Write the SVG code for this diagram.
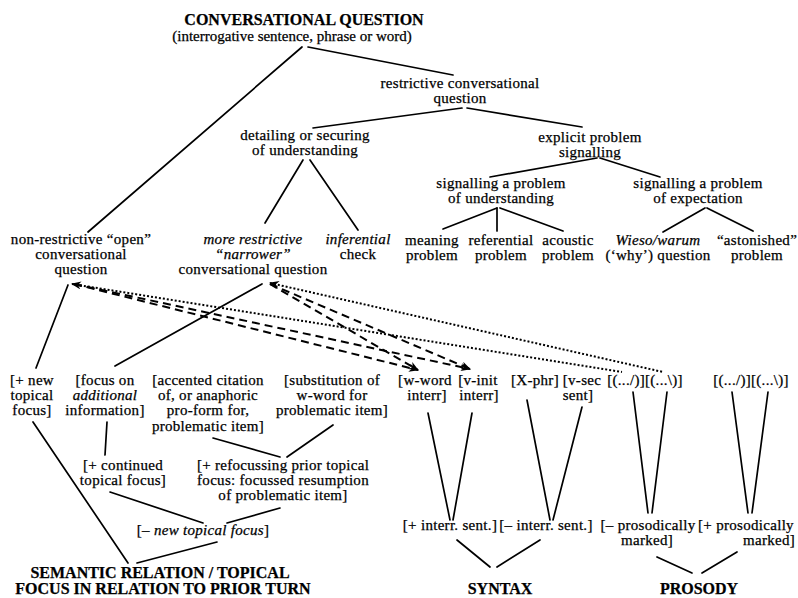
<svg xmlns="http://www.w3.org/2000/svg" width="798" height="598" viewBox="0 0 798 598">
<defs>
<style>
text{font-family:"Liberation Serif","Times New Roman",serif;font-size:15px;fill:#000;text-anchor:middle;letter-spacing:0.3px;stroke:#000;stroke-width:0.25px}
.b{font-weight:bold;font-size:16px;letter-spacing:0}
.i{font-style:italic}
.ln{stroke:#000;stroke-width:1.7;fill:none;stroke-linecap:round}
.dash{stroke:#000;stroke-width:2;fill:none;stroke-dasharray:8 5}
.dot{stroke:#000;stroke-width:2;fill:none;stroke-dasharray:2 2}
</style>
<marker id="ah" markerUnits="userSpaceOnUse" markerWidth="10" markerHeight="8" refX="9" refY="4" orient="auto-start-reverse">
<path d="M0,0 L10,4 L0,8 L3,4 z" fill="#000"/>
</marker>
</defs>
<rect width="798" height="598" fill="#fff"/>

<g id="connectors">
<line class="ln" x1="302" y1="47" x2="88" y2="232"/>
<line class="ln" x1="308" y1="47" x2="453" y2="75"/>
<line class="ln" x1="462" y1="108" x2="313" y2="128"/>
<line class="ln" x1="467" y1="108" x2="582" y2="127"/>
<line class="ln" x1="303" y1="160" x2="265" y2="223"/>
<line class="ln" x1="310" y1="160" x2="358" y2="230"/>
<line class="ln" x1="597" y1="158" x2="490" y2="177"/>
<line class="ln" x1="600" y1="158" x2="660" y2="177"/>
<line class="ln" x1="497" y1="208" x2="443" y2="229"/>
<line class="ln" x1="497" y1="208" x2="497" y2="231"/>
<line class="ln" x1="500" y1="208" x2="563" y2="231"/>
<line class="ln" x1="705" y1="208" x2="663" y2="232"/>
<line class="ln" x1="707" y1="208" x2="753" y2="231"/>
<line class="ln" x1="68" y1="285" x2="36" y2="368"/>
<line class="ln" x1="262" y1="284" x2="115" y2="366"/>
<line class="ln" x1="107" y1="422" x2="105" y2="455"/>
<line class="ln" x1="213" y1="438" x2="280" y2="457"/>
<line class="ln" x1="333" y1="425" x2="287" y2="457"/>
<line class="ln" x1="110" y1="492" x2="203" y2="523"/>
<line class="ln" x1="280" y1="508" x2="227" y2="523"/>
<line class="ln" x1="33" y1="422" x2="128" y2="563"/>
<line class="ln" x1="217" y1="542" x2="137" y2="563"/>
<line class="ln" x1="428" y1="413" x2="450" y2="520"/>
<line class="ln" x1="472" y1="413" x2="453" y2="520"/>
<line class="ln" x1="527" y1="400" x2="550" y2="520"/>
<line class="ln" x1="582" y1="407" x2="553" y2="520"/>
<line class="ln" x1="633" y1="392" x2="648" y2="513"/>
<line class="ln" x1="667" y1="392" x2="652" y2="513"/>
<line class="ln" x1="732" y1="392" x2="748" y2="513"/>
<line class="ln" x1="768" y1="392" x2="752" y2="513"/>
<line class="ln" x1="457" y1="540" x2="490" y2="567"/>
<line class="ln" x1="540" y1="540" x2="497" y2="567"/>
<line class="ln" x1="657" y1="557" x2="692" y2="573"/>
<line class="ln" x1="737" y1="552" x2="702" y2="573"/>
<line class="dash" x1="74" y1="284" x2="418" y2="370" marker-end="url(#ah)"/>
<line class="dash" x1="74" y1="284" x2="470" y2="369" marker-end="url(#ah)"/>
<line class="dash" x1="270" y1="284" x2="418" y2="370" marker-end="url(#ah)"/>
<line class="dash" x1="270" y1="284" x2="470" y2="369" marker-end="url(#ah)"/>
<line class="dot" x1="72" y1="284" x2="622" y2="372" marker-start="url(#ah)"/>
<line class="dot" x1="270" y1="283" x2="663" y2="372" marker-start="url(#ah)"/>
</g>

<g id="n-title"><text class="b" x="304" y="25">CONVERSATIONAL QUESTION</text><text x="292" y="41" style="letter-spacing:0">(interrogative sentence, phrase or word)</text></g>
<g id="n-restrictive"><text x="460" y="88">restrictive conversational<tspan x="460" dy="15">question</tspan></text></g>
<g id="n-detailing"><text x="305" y="140">detailing or securing<tspan x="305" dy="15">of understanding</tspan></text></g>
<g id="n-explicit"><text x="590" y="142">explicit problem<tspan x="590" dy="15">signalling</tspan></text></g>
<g id="n-sig-und"><text x="501" y="188">signalling a problem<tspan x="501" dy="15">of understanding</tspan></text></g>
<g id="n-sig-exp"><text x="698" y="188">signalling a problem<tspan x="698" dy="15">of expectation</tspan></text></g>
<g id="n-meaning"><text x="432" y="245">meaning<tspan x="432" dy="15">problem</tspan></text></g>
<g id="n-referential"><text x="501" y="245">referential<tspan x="501" dy="15">problem</tspan></text></g>
<g id="n-acoustic"><text x="568" y="245">acoustic<tspan x="568" dy="15">problem</tspan></text></g>
<g id="n-wieso"><text x="658" y="245"><tspan class="i">Wieso/warum</tspan><tspan x="658" dy="15">(‘why’) question</tspan></text></g>
<g id="n-astonished"><text x="757" y="245">“astonished”<tspan x="757" dy="15">problem</tspan></text></g>
<g id="n-open"><text x="81" y="244">non-restrictive “open”<tspan x="81" dy="15">conversational</tspan><tspan x="81" dy="15">question</tspan></text></g>
<g id="n-narrower"><text x="253" y="244"><tspan class="i">more restrictive</tspan><tspan class="i" x="253" dy="15">“narrower”</tspan><tspan x="253" dy="15">conversational question</tspan></text></g>
<g id="n-inferential"><text x="358" y="244"><tspan class="i">inferential</tspan><tspan x="358" dy="15">check</tspan></text></g>
<g id="n-newtopical"><text x="32" y="385">[+ new<tspan x="32" dy="15">topical</tspan><tspan x="32" dy="15">focus]</tspan></text></g>
<g id="n-additional"><text x="105" y="385">[focus on<tspan class="i" x="105" dy="15">additional</tspan><tspan x="105" dy="15">information]</tspan></text></g>
<g id="n-accented"><text x="208" y="385">[accented citation<tspan x="208" dy="15">of, or anaphoric</tspan><tspan x="208" dy="15">pro-form for,</tspan><tspan x="208" dy="16">problematic item]</tspan></text></g>
<g id="n-substitution"><text x="332" y="385">[substitution of<tspan x="332" dy="15">w-word for</tspan><tspan x="332" dy="15">problematic item]</tspan></text></g>
<g id="n-continued"><text x="123" y="470">[+ continued<tspan x="123" dy="15">topical focus]</tspan></text></g>
<g id="n-refocussing"><text x="283" y="470">[+ refocussing prior topical<tspan x="283" dy="15">focus: focussed resumption</tspan><tspan x="283" dy="15">of problematic item]</tspan></text></g>
<g id="n-minusnew"><text x="203" y="535">[– <tspan class="i">new topical focus</tspan>]</text></g>
<g id="n-semantic"><text class="b" x="160" y="578">SEMANTIC RELATION / TOPICAL<tspan x="163" dy="16">FOCUS IN RELATION TO PRIOR TURN</tspan></text></g>
<g id="n-wword"><text x="425" y="385">[w-word<tspan x="427" dy="15">interr]</tspan></text></g>
<g id="n-vinit"><text x="478" y="385">[v-init<tspan x="479" dy="15">interr]</tspan></text></g>
<g id="n-xphr"><text x="535" y="385">[X-phr]</text></g>
<g id="n-vsec"><text x="582" y="385">[v-sec<tspan x="578" dy="15">sent]</tspan></text></g>
<g id="n-pros1"><text x="645" y="385">[(.../)][(...\)]</text></g>
<g id="n-pros2"><text x="751" y="385">[(.../)][(...\)]</text></g>
<g id="n-plusinterr"><text x="450" y="530">[+ interr. sent.]</text></g>
<g id="n-minusinterr"><text x="546" y="530">[– interr. sent.]</text></g>
<g id="n-minuspros"><text x="648" y="530">[– prosodically<tspan x="647" dy="15">marked]</tspan></text></g>
<g id="n-pluspros"><text x="746" y="530">[+ prosodically<tspan x="769" dy="15">marked]</tspan></text></g>
<g id="n-syntax"><text class="b" x="500" y="594">SYNTAX</text></g>
<g id="n-prosody"><text class="b" x="699" y="594">PROSODY</text></g>
</svg>
